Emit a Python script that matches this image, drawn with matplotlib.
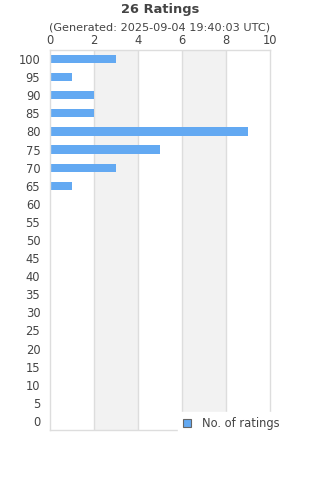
import matplotlib
matplotlib.use("Agg")
import matplotlib.pyplot as plt
from matplotlib.patches import Patch

# rating buckets (bottom to top) and number of ratings in each
ratings = [0, 5, 10, 15, 20, 25, 30, 35, 40, 45, 50, 55, 60, 65, 70, 75, 80, 85, 90, 95, 100]
counts = [0, 0, 0, 0, 0, 0, 0, 0, 0, 0, 0, 0, 0, 1, 3, 5, 9, 2, 2, 1, 3]
x_ticks = [0, 2, 4, 6, 8, 10]

title = "26 Ratings"
subtitle = "(Generated: 2025-09-04 19:40:03 UTC)"
series_name = "No. of ratings"

bar_color = "#63a9f2"
text_color = "#444444"
grid_color = "#dddddd"
band_color = "#f2f2f2"

fig = plt.figure(figsize=(3.2, 4.8), dpi=100)
ax = fig.add_axes([50 / 320, 1 - 430 / 480, 220 / 320, 380 / 480])

# alternating background bands
for i in range(len(x_ticks) - 1):
    if i % 2 == 1:
        ax.axvspan(x_ticks[i], x_ticks[i + 1], color=band_color, zorder=0, lw=0)
for t in x_ticks[1:-1]:
    ax.axvline(t, color=grid_color, lw=1, zorder=1)

pos = list(range(len(ratings)))
ax.barh(pos, counts, height=0.45, color=bar_color, zorder=2)

ax.set_xlim(0, 10)
ax.set_ylim(-0.5, len(ratings) - 0.5)
ax.set_xticks(x_ticks)
ax.set_yticks(pos)
ax.set_yticklabels([str(r) for r in ratings])
ax.xaxis.tick_top()
ax.tick_params(axis="both", length=0, labelsize=8.3, colors=text_color)
ax.tick_params(axis="x", pad=2.5)
ax.tick_params(axis="y", pad=7)
for s in ax.spines.values():
    s.set_color(grid_color)
    s.set_linewidth(1)

fig.text(0.5, 1 - 10 / 480, title, ha="center", va="center",
         fontsize=9.4, fontweight="bold", color=text_color)
fig.text(0.5, 1 - 28 / 480, subtitle, ha="center", va="center",
         fontsize=8.1, color=text_color)

handle = Patch(facecolor=bar_color, edgecolor="#666666", linewidth=0.8)
leg = ax.legend([handle], [series_name], loc="lower right",
                bbox_to_anchor=(1.065, -0.012), frameon=True, fancybox=False,
                fontsize=8.3, handlelength=0.7, handleheight=0.7,
                borderpad=0.4, handletextpad=0.95, borderaxespad=0)
leg.get_frame().set_edgecolor("white")
leg.get_frame().set_facecolor("white")
leg.get_frame().set_alpha(1)
for t in leg.get_texts():
    t.set_color(text_color)

fig.savefig("out.png", dpi=100)
